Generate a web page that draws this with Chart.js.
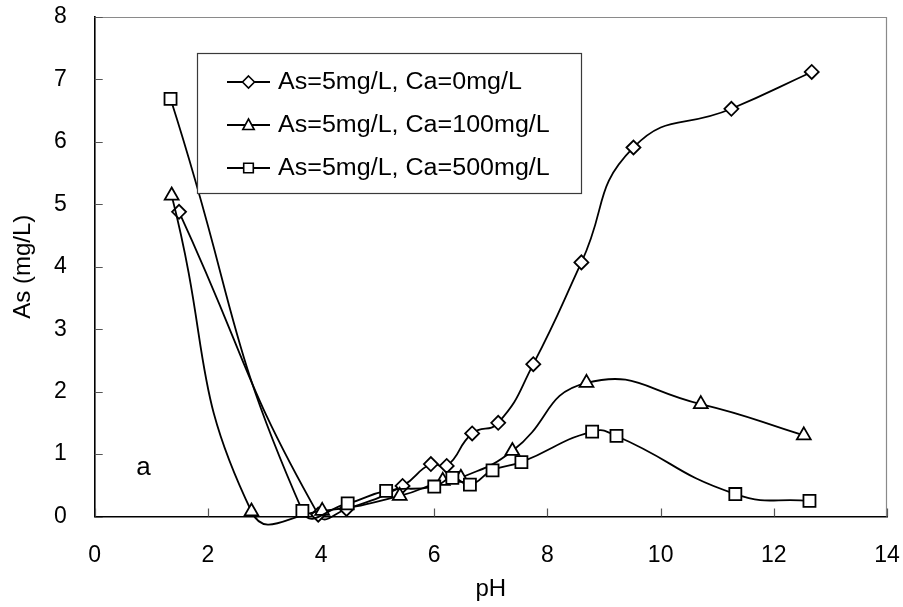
<!DOCTYPE html>
<html>
<head>
<meta charset="utf-8">
<script src="https://cdn.jsdelivr.net/npm/chart.js@4.4.0/dist/chart.umd.min.js"></script>
<style>
  html, body { margin: 0; padding: 0; background: #ffffff; }
  #wrap { width: 903px; height: 607px; }
</style>
</head>
<body>
<div id="wrap"><canvas id="c" width="903" height="607"></canvas></div>
<script>
// Residual arsenic vs. pH for three calcium doses
const phCa0   = [1.49, 3.95, 4.45, 5.44, 5.94, 6.22, 6.67, 7.13, 7.75, 8.60, 9.52, 11.25, 12.67];
const asCa0   = [4.88, 0.03, 0.12, 0.49, 0.84, 0.81, 1.33, 1.50, 2.44, 4.07, 5.91, 6.53, 7.12];

const phCa100 = [1.36, 2.77, 4.02, 5.39, 6.15, 6.47, 7.38, 8.69, 10.71, 12.53];
const asCa100 = [5.14, 0.08, 0.09, 0.33, 0.57, 0.62, 1.05, 2.14, 1.80, 1.30];

const phCa500 = [1.34, 3.67, 4.47, 5.15, 6.00, 6.32, 6.63, 7.03, 7.54, 8.79, 9.22, 11.32, 12.63];
const asCa500 = [6.69, 0.09, 0.21, 0.41, 0.48, 0.62, 0.51, 0.74, 0.87, 1.36, 1.29, 0.36, 0.25];

const seriesLabels = ['As=5mg/L, Ca=0mg/L', 'As=5mg/L, Ca=100mg/L', 'As=5mg/L, Ca=500mg/L'];
const seriesStyles = ['rectRot', 'triangle', 'rect'];

const xTicks = [0, 2, 4, 6, 8, 10, 12, 14];
const yTicks = [0, 1, 2, 3, 4, 5, 6, 7, 8];

const panelTag = 'a';
const panelTagAt = { x: 0.86, y: 0.78 };

const FONT = '"Liberation Sans", Arial, Helvetica, sans-serif';
Chart.defaults.font.family = FONT;
Chart.defaults.color = '#000000';

function toPoints(xs, ys) {
  return xs.map((x, i) => ({ x: x, y: ys[i] }));
}

function makeSet(label, xs, ys, style, radius, order) {
  return {
    label: label,
    data: toPoints(xs, ys),
    showLine: true,
    borderColor: '#000000',
    borderWidth: 1.8,
    pointStyle: style,
    pointRadius: radius,
    pointHoverRadius: radius,
    pointBackgroundColor: '#ffffff',
    pointBorderColor: '#000000',
    pointBorderWidth: 1.8,
    tension: 0.5,
    clip: false,
    order: order
  };
}

// label overflow is handled by the fixed layout padding instead
function noEdgePadding(s) {
  s.paddingTop = 0; s.paddingBottom = 0; s.paddingLeft = 0; s.paddingRight = 0;
}

// legend marker shapes
function markerPath(ctx, style, x, y, r) {
  ctx.beginPath();
  if (style === 'rectRot') {
    ctx.moveTo(x, y - r); ctx.lineTo(x + r, y); ctx.lineTo(x, y + r); ctx.lineTo(x - r, y);
  } else if (style === 'triangle') {
    ctx.moveTo(x, y - r); ctx.lineTo(x + r * 0.95, y + r * 0.75); ctx.lineTo(x - r * 0.95, y + r * 0.75);
  } else {
    const h = r * 0.8;
    ctx.rect(x - h, y - h, 2 * h, 2 * h);
  }
  ctx.closePath();
}

const framePlugin = {
  id: 'frame',
  beforeDatasetsDraw(chart) {
    const { ctx, chartArea: a, scales } = chart;
    ctx.save();
    // light top/right frame
    ctx.strokeStyle = '#8a8a8a';
    ctx.lineWidth = 1.2;
    ctx.beginPath();
    ctx.moveTo(a.left, a.top + 0.5);
    ctx.lineTo(a.right - 0.5, a.top + 0.5);
    ctx.lineTo(a.right - 0.5, a.bottom);
    ctx.stroke();
    // inward tick marks
    ctx.strokeStyle = '#555555';
    ctx.lineWidth = 1.2;
    ctx.beginPath();
    xTicks.forEach(v => {
      const px = Math.round(scales.x.getPixelForValue(v)) + 0.5;
      ctx.moveTo(px, a.bottom);
      ctx.lineTo(px, a.bottom - 8);
    });
    yTicks.forEach(v => {
      const py = Math.round(scales.y.getPixelForValue(v)) + 0.5;
      ctx.moveTo(a.left, py);
      ctx.lineTo(a.left + 8, py);
    });
    ctx.stroke();
    ctx.restore();
  },
  afterDatasetsDraw(chart) {
    const { ctx, scales } = chart;
    ctx.save();
    // panel tag
    ctx.fillStyle = '#000000';
    ctx.font = '26px ' + FONT;
    ctx.textAlign = 'center';
    ctx.textBaseline = 'middle';
    ctx.fillText(panelTag, scales.x.getPixelForValue(panelTagAt.x), scales.y.getPixelForValue(panelTagAt.y));

    // legend box
    const bx = 197, by = 53, bw = 384, bh = 140;
    ctx.fillStyle = '#ffffff';
    ctx.fillRect(bx, by, bw, bh);
    ctx.strokeStyle = '#3a3a3a';
    ctx.lineWidth = 1.2;
    ctx.strokeRect(bx + 0.5, by + 0.5, bw, bh);

    const rows = [82, 125, 168];
    chart.data.datasets.forEach((ds, i) => {
      const y = rows[i];
      ctx.strokeStyle = '#000000';
      ctx.lineWidth = 1.8;
      ctx.beginPath();
      ctx.moveTo(227, y);
      ctx.lineTo(270, y);
      ctx.stroke();
      markerPath(ctx, seriesStyles[i], 248.5, y, 6);
      ctx.fillStyle = '#ffffff';
      ctx.fill();
      ctx.lineWidth = 1.6;
      ctx.stroke();
      // slightly wide legend lettering
      ctx.save();
      ctx.translate(278, y + 1);
      ctx.scale(1.09, 1);
      ctx.fillStyle = '#000000';
      ctx.font = '23px ' + FONT;
      ctx.textAlign = 'left';
      ctx.textBaseline = 'middle';
      ctx.fillText(ds.label, 0, 0);
      ctx.restore();
    });
    ctx.restore();
  }
};

new Chart(document.getElementById('c'), {
  type: 'scatter',
  data: {
    datasets: [
      makeSet(seriesLabels[0], phCa0, asCa0, seriesStyles[0], 7, 3),
      makeSet(seriesLabels[1], phCa100, asCa100, seriesStyles[1], 8, 2),
      makeSet(seriesLabels[2], phCa500, asCa500, seriesStyles[2], 8.5, 1)
    ]
  },
  options: {
    responsive: false,
    animation: false,
    events: [],
    layout: { padding: { top: 17, right: 16, left: 0, bottom: 0 } },
    elements: { line: { capBezierPoints: false } },
    plugins: {
      legend: { display: false },
      tooltip: { enabled: false }
    },
    scales: {
      x: {
        type: 'linear',
        min: 0, max: 14,
        afterBuildTicks(s) { s.ticks = xTicks.map(v => ({ value: v })); },
        afterFit(s) { s.height = 90.5; noEdgePadding(s); },
        grid: { display: false, drawTicks: false },
        border: { display: true, color: '#000000', width: 1.6 },
        ticks: { font: { size: 23 }, color: '#000000', padding: 25, maxRotation: 0 },
        title: { display: true, text: 'pH', font: { size: 24 }, color: '#000000', padding: { top: 0, bottom: 3 } }
      },
      y: {
        type: 'linear',
        min: 0, max: 8,
        afterBuildTicks(s) { s.ticks = yTicks.map(v => ({ value: v })); },
        afterFit(s) { s.width = 94.7; noEdgePadding(s); },
        grid: { display: false, drawTicks: false },
        border: { display: true, color: '#000000', width: 1.6 },
        ticks: { font: { size: 23 }, color: '#000000', padding: 28 },
        title: { display: true, text: 'As (mg/L)', font: { size: 24 }, color: '#000000', padding: { top: 9, bottom: 0 } }
      }
    }
  },
  plugins: [framePlugin]
});
</script>
</body>
</html>
